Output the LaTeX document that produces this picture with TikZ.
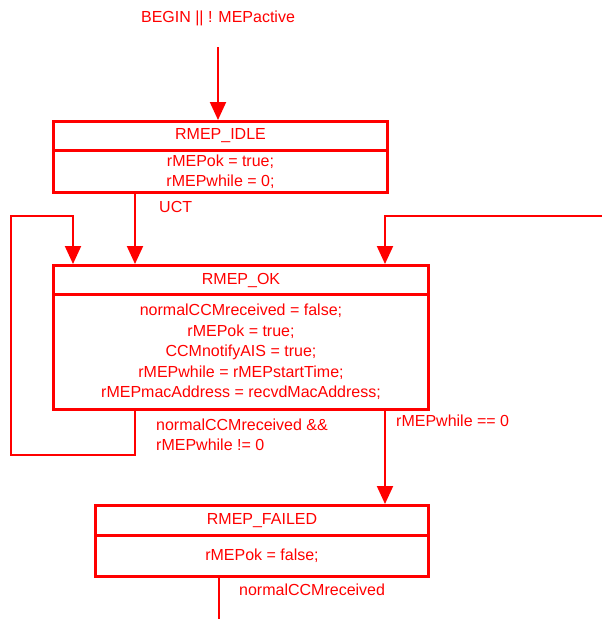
\documentclass[tikz,border=0pt]{standalone}
\usepackage{fontspec}
\setmainfont{Liberation Sans}
\usetikzlibrary{arrows.meta}
\definecolor{fsmred}{RGB}{255,0,0}
\tikzstyle{hd}=[draw=fsmred,line width=3pt,text=fsmred,anchor=north west,inner sep=0pt,font=\fontsize{16}{20.5}\selectfont]
\tikzstyle{bd}=[hd,align=center]
\tikzstyle{lbl}=[text=fsmred,inner sep=0pt,align=left,font=\fontsize{16}{20}\selectfont]
\tikzstyle{ln}=[draw=fsmred,line width=2pt]
\tikzstyle{tr}=[ln,-{Triangle[width=16pt,length=18pt]}]

\begin{document}
\begin{tikzpicture}[x=1pt,y=-1pt]
\useasboundingbox (0,0) rectangle (602,619);
\node[hd,minimum width=334pt,minimum height=29pt] (idle) at (52,120) {RMEP\_IDLE};
\node[bd,minimum width=334pt,minimum height=42pt] (idlebody) at (52,149) {rMEPok = true;\\rMEPwhile = 0;};
\node[hd,minimum width=375pt,minimum height=29pt] (ok) at (52,264) {RMEP\_OK};
\node[bd,minimum width=375pt,minimum height=115pt] (okbody) at (52,293) {normalCCMreceived = false;\\rMEPok = true;\\CCMnotifyAIS = true;\\rMEPwhile = rMEPstartTime;\\rMEPmacAddress = recvdMacAddress;};
\node[hd,minimum width=333pt,minimum height=30pt] (failed) at (94,504) {RMEP\_FAILED};
\node[bd,minimum width=333pt,minimum height=41pt] (failbody) at (94,534) {rMEPok = false;};
\node[lbl] (begin) at (218,18) {BEGIN || ! MEPactive};
\node[lbl,anchor=west] (uct) at (159,207) {UCT};
\node[lbl,anchor=west] (stay) at (156,435) {normalCCMreceived \&\&\\rMEPwhile != 0};
\node[lbl,anchor=west] (tofail) at (396,421) {rMEPwhile == 0};
\node[lbl,anchor=west] (recover) at (239,590) {normalCCMreceived};
\coordinate (init) at (218,47);
\coordinate (okin1) at (73,264);
\coordinate (okin2) at (135,264);
\coordinate (okin3) at (385,264);
\coordinate (loopbot) at (11,455);
\coordinate (looptop) at (11,216);
\coordinate (fromright) at (602,216);
\coordinate (failin) at (385,504);
\coordinate (exit) at (219,619);
\draw[tr] (init) -- (init |- idle.north);
\draw[tr] (idlebody.south -| okin2) -- (okin2);
\draw[tr] (okbody.south -| okin2) |- (loopbot) -- (looptop) -| (okin1);
\draw[tr] (fromright) -| (okin3);
\draw[tr] (okbody.south -| failin) -- (failin);
\draw[ln] (failbody.south -| exit) -- (exit);
\end{tikzpicture}
\end{document}
